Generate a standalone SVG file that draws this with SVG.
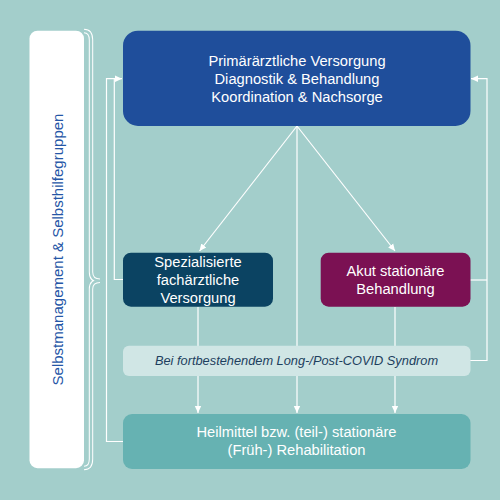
<svg xmlns="http://www.w3.org/2000/svg" width="500" height="500" viewBox="0 0 500 500">
  <defs>
    <marker id="arr" markerUnits="userSpaceOnUse" markerWidth="8" markerHeight="8" viewBox="0 0 8 8" refX="7" refY="4" orient="auto">
      <path d="M0,0.8 L7,4 L0,7.2 Z" fill="#ffffff"/>
    </marker>
  </defs>
  <style>
    .t { font-family: "Liberation Sans", Arial, sans-serif; font-size: 14.7px; fill: #ffffff; text-anchor: middle; }
    .c { fill: none; stroke: #ffffff; stroke-width: 1.2; }
  </style>
  <rect x="0" y="0" width="500" height="500" fill="#a3cecb"/>

  <g id="connectors">
    <path class="c" d="M297 126 L199.5 251" marker-end="url(#arr)"/>
    <path class="c" d="M297 126 L395 251" marker-end="url(#arr)"/>
    <path class="c" d="M297 126 L297 413" marker-end="url(#arr)"/>
    <path class="c" d="M198 307 L198 413" marker-end="url(#arr)"/>
    <path class="c" d="M395 307 L395 413" marker-end="url(#arr)"/>
    <path class="c" d="M123 441.5 L106.5 441.5 L106.5 78.7 L122 78.7" marker-end="url(#arr)"/>
    <path class="c" d="M123 279.5 L114.3 279.5 L114.3 78.7"/>
    <path class="c" d="M470 360.5 L487 360.5 L487 78.7 L471 78.7" marker-end="url(#arr)"/>
    <path class="c" d="M470 280 L487 280"/>
  </g>

  <g id="self">
    <rect x="29.5" y="30.7" width="54.5" height="437.5" rx="8" fill="#ffffff"/>
    <text class="t" transform="translate(62.5,249.5) rotate(-90)" x="0" y="0" style="fill:#2556a6;font-size:15px">Selbstmanagement &amp; Selbsthilfegruppen</text>
  </g>

  <g id="brace">
    <path d="M84 31 Q91 31 91 40 L91 272 Q91 280.7 100 280.7 Q91 280.7 91 289 L91 459 Q91 468 84 468" fill="none" stroke="#ffffff" stroke-width="4.4"/>
    <path d="M84 31 Q91 31 91 40 L91 272 Q91 280.7 100 280.7 Q91 280.7 91 289 L91 459 Q91 468 84 468" fill="none" stroke="#a3cecb" stroke-width="2.4"/>
  </g>

  <g id="primaer">
    <rect x="123" y="30.7" width="347.5" height="95.3" rx="15" fill="#1f4e9b"/>
    <text class="t" x="297" y="66">Primärärztliche Versorgung</text>
    <text class="t" x="297" y="84">Diagnostik &amp; Behandlung</text>
    <text class="t" x="297" y="102">Koordination &amp; Nachsorge</text>
  </g>

  <g id="spezial">
    <rect x="123" y="252.7" width="150" height="54" rx="8" fill="#0b4362"/>
    <text class="t" x="198" y="267">Spezialisierte</text>
    <text class="t" x="198" y="285">fachärztliche</text>
    <text class="t" x="198" y="303">Versorgung</text>
  </g>

  <g id="akut">
    <rect x="320.7" y="252.7" width="149.8" height="54" rx="8" fill="#7b1153"/>
    <text class="t" x="395.5" y="276">Akut stationäre</text>
    <text class="t" x="395.5" y="294">Behandlung</text>
  </g>

  <g id="longcovid">
    <rect x="123" y="345.7" width="347.5" height="30.3" rx="6" fill="#d0e6e5"/>
    <text class="t" x="296.5" y="365" style="fill:#1d3f5e;font-style:italic;font-size:12.8px">Bei fortbestehendem Long-/Post-COVID Syndrom</text>
  </g>

  <g id="heilmittel">
    <rect x="123" y="414" width="347.5" height="55" rx="9" fill="#66b2b2"/>
    <text class="t" x="296.5" y="437">Heilmittel bzw. (teil-) stationäre</text>
    <text class="t" x="296.5" y="455">(Früh-) Rehabilitation</text>
  </g>
</svg>
